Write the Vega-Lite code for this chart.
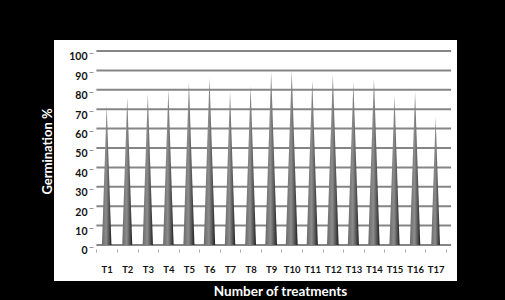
{
  "$schema": "https://vega.github.io/schema/vega-lite/v6.json",
  "width": 403,
  "height": 241,
  "autosize": "none",
  "padding": {"left": 54, "top": 40, "right": 48, "bottom": 19},
  "background": "#000000",
  "view": {"fill": "#ffffff", "stroke": null},
  "config": {
    "font": "Lato",
    "axisY": {
      "domain": false,
      "grid": false,
      "labelOverlap": false,
      "labelBound": false,
      "tickSize": 4,
      "tickColor": "#999999",
      "labelOffset": 4,
      "tickOffset": 2,
      "labelPadding": 2,
      "labelFont": "Lato",
      "labelFontWeight": "bold",
      "labelFontSize": 10.5,
      "labelColor": "#111111",
      "titleColor": "#ffffff",
      "titleFont": "Lato",
      "titleFontWeight": "bold",
      "titleFontSize": 13
    },
    "axisX": {
      "domain": false,
      "labelAngle": 0,
      "labelFont": "Lato",
      "labelFontWeight": "bold",
      "labelFontSize": 9.5,
      "labelColor": "#111111",
      "tickBand": "extent",
      "tickSize": 3,
      "tickColor": "#aaaaaa",
      "labelPadding": 12,
      "titleColor": "#ffffff",
      "titleFont": "Lato",
      "titleFontWeight": "bold",
      "titleFontSize": 13.5
    }
  },
  "datasets": {
    "germ": [
      {"t": "T1", "g": 72}, {"t": "T2", "g": 76}, {"t": "T3", "g": 78},
      {"t": "T4", "g": 80}, {"t": "T5", "g": 84}, {"t": "T6", "g": 86},
      {"t": "T7", "g": 79}, {"t": "T8", "g": 82}, {"t": "T9", "g": 89},
      {"t": "T10", "g": 90}, {"t": "T11", "g": 85}, {"t": "T12", "g": 88},
      {"t": "T13", "g": 84}, {"t": "T14", "g": 86}, {"t": "T15", "g": 77},
      {"t": "T16", "g": 79}, {"t": "T17", "g": 66}
    ],
    "grid": [
      {"v": 0}, {"v": 10}, {"v": 20}, {"v": 30}, {"v": 40}, {"v": 50},
      {"v": 60}, {"v": 70}, {"v": 80}, {"v": 90}, {"v": 100}
    ]
  },
  "layer": [
    {
      "data": {"name": "grid"},
      "mark": {"type": "rule", "color": "#858585", "strokeWidth": 2},
      "encoding": {
        "x": {"datum": "T1", "type": "nominal", "bandPosition": 0,
          "scale": {"type": "band",
                    "domain": ["T1","T2","T3","T4","T5","T6","T7","T8","T9","T10","T11","T12","T13","T14","T15","T16","T17"],
                    "range": [42.4, 391.9],
                    "paddingOuter": 0, "paddingInner": 0},
          "axis": {
            "title": "Number of treatments",
            "offset": -32,
            "titleX": 226,
            "titleY": 46,
            "titleBaseline": "alphabetic",
            "titleAlign": "center"
          }
        },
        "x2": {"datum": "T17", "bandPosition": 1.25},
        "y": {"field": "v", "type": "quantitative",
          "scale": {"domain": [-18.56, 105.67], "nice": false, "zero": false},
          "axis": {
            "title": "Germination %",
            "values": [0, 10, 20, 30, 40, 50, 60, 70, 80, 90, 100],
            "offset": -39,
            "titleX": -46,
            "titleY": 111,
            "titleAngle": -90,
            "titleAlign": "center",
            "titleBaseline": "middle"
          }
        }
      }
    },
    {
      "data": {"name": "germ"},
      "mark": {
        "type": "point",
        "filled": true,
        "opacity": 1,
        "strokeWidth": 0,
        "shape": "M-0.068,0L0,-2L0.068,0Z",
        "fill": {
          "gradient": "linear", "x1": 0, "y1": 0, "x2": 1, "y2": 0,
          "stops": [
            {"offset": 0, "color": "#6a6a6a"},
            {"offset": 0.45, "color": "#8c8c8c"},
            {"offset": 0.75, "color": "#555555"},
            {"offset": 1, "color": "#1e1e1e"}
          ]
        }
      },
      "encoding": {
        "x": {"field": "t", "type": "nominal", "sort": null},
        "y": {"datum": 0, "type": "quantitative",
          "axis": {"values": [0, 10, 20, 30, 40, 50, 60, 70, 80, 90, 100]}},
        "size": {
          "field": "g", "type": "quantitative", "legend": null,
          "scale": {"type": "pow", "exponent": 2, "domain": [0, 100], "range": [0, 37636]}
        }
      }
    }
  ]
}
